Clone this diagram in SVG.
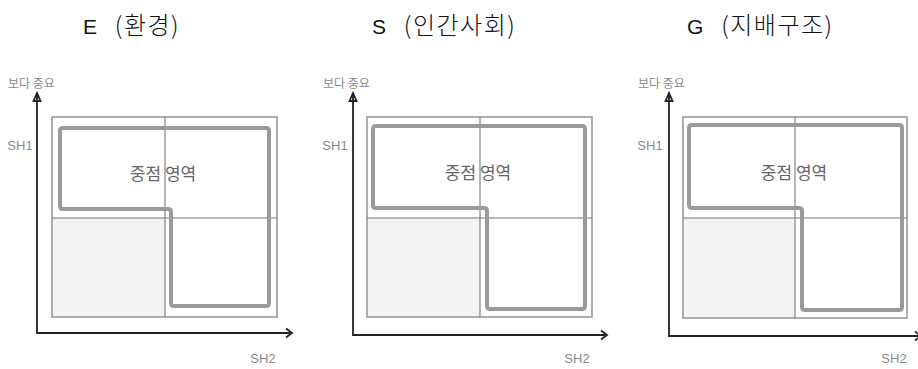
<svg xmlns="http://www.w3.org/2000/svg" width="918" height="369" viewBox="0 0 918 369">
<defs>
<style>
.title{font-family:"Liberation Sans","Noto Sans CJK KR",sans-serif;font-size:21px;fill:#111}
.ko{font-family:"Noto Sans CJK KR","Liberation Sans",sans-serif;font-size:24px;font-weight:300;letter-spacing:1.5px}
.lbl{font-family:"Noto Sans CJK KR","Liberation Sans",sans-serif;font-size:12px;fill:#8a8a8a}
.sh{font-family:"Liberation Sans","Noto Sans CJK KR",sans-serif;font-size:13px;fill:#8a8a8a;text-anchor:middle}
.focus{font-family:"Noto Sans CJK KR","Liberation Sans",sans-serif;font-size:17px;fill:#666;text-anchor:middle}
.axis{fill:none;stroke:#222;stroke-width:1.8}
.outer{fill:none;stroke:#9a9a9a;stroke-width:1.6}
.mid{fill:none;stroke:#777;stroke-width:1.1}
.low{fill:#f2f3f2;stroke:none}
.zone{fill:none;stroke:#9a9a9a;stroke-width:4;stroke-linejoin:round}
.head{fill:none;stroke:#222;stroke-width:1.8;stroke-linejoin:miter}
</style>
</defs>
<rect width="918" height="369" fill="#fff"/>

<g id="panel-e">
<text class="title" x="83" y="34">E <tspan class="ko" dx="12">(환경)</tspan></text>
<text class="lbl" x="8" y="88">보다 중요</text>
<text class="sh" x="20" y="150">SH1</text>
<text class="sh" x="263" y="363">SH2</text>
<rect class="low" x="52" y="218" width="113" height="99"/>
<rect class="outer" x="52" y="117" width="225" height="200"/>
<line class="mid" x1="165" y1="117" x2="165" y2="317"/>
<line class="mid" x1="52" y1="218" x2="277" y2="218"/>
<path class="zone" d="M63,128 H266 Q269,128 269,131 V303 Q269,306 266,306 H174 Q171,306 171,303 V212 Q171,209 168,209 H63 Q60,209 60,206 V131 Q60,128 63,128 Z"/>
<text class="focus" x="163" y="180">중점 영역</text>
<path class="axis" d="M37,95 V333 H290"/>
<path class="head" d="M33.5,101 L37,93 L40.5,101 Z" fill="#222"/>
<path class="head" d="M286,328.5 L292,333 L286,337.5"/>
</g>

<g id="panel-s">
<text class="title" x="372" y="34">S <tspan class="ko" dx="12">(인간사회)</tspan></text>
<text class="lbl" x="323" y="88">보다 중요</text>
<text class="sh" x="335" y="150">SH1</text>
<text class="sh" x="577" y="363">SH2</text>
<rect class="low" x="367" y="218" width="113" height="99"/>
<rect class="outer" x="367" y="117" width="225" height="200"/>
<line class="mid" x1="480" y1="117" x2="480" y2="317"/>
<line class="mid" x1="367" y1="218" x2="592" y2="218"/>
<path class="zone" d="M376,126 H582 Q585,126 585,129 V306 Q585,309 582,309 H490 Q487,309 487,306 V211 Q487,208 484,208 H376 Q373,208 373,205 V129 Q373,126 376,126 Z"/>
<text class="focus" x="478" y="179">중점 영역</text>
<path class="axis" d="M353,95 V335 H605"/>
<path class="head" d="M349.5,101 L353,93 L356.5,101 Z" fill="#222"/>
<path class="head" d="M601,330.5 L607,335 L601,339.5"/>
</g>

<g id="panel-g">
<text class="title" x="687" y="34">G <tspan class="ko" dx="12">(지배구조)</tspan></text>
<text class="lbl" x="638" y="88">보다 중요</text>
<text class="sh" x="650" y="150">SH1</text>
<text class="sh" x="894" y="363">SH2</text>
<rect class="low" x="683" y="218" width="112" height="100"/>
<rect class="outer" x="683" y="117" width="224" height="201"/>
<line class="mid" x1="795" y1="117" x2="795" y2="318"/>
<line class="mid" x1="683" y1="218" x2="907" y2="218"/>
<path class="zone" d="M692,125 H899 Q902,125 902,128 V307 Q902,310 899,310 H805 Q802,310 802,307 V211 Q802,208 799,208 H692 Q689,208 689,205 V128 Q689,125 692,125 Z"/>
<text class="focus" x="794" y="179">중점 영역</text>
<path class="axis" d="M669,95 V336 H918"/>
<path class="head" d="M665.5,101 L669,93 L672.5,101 Z" fill="#222"/>
<path class="head" d="M915,331.5 L921,336 L915,340.5"/>
</g>
</svg>
